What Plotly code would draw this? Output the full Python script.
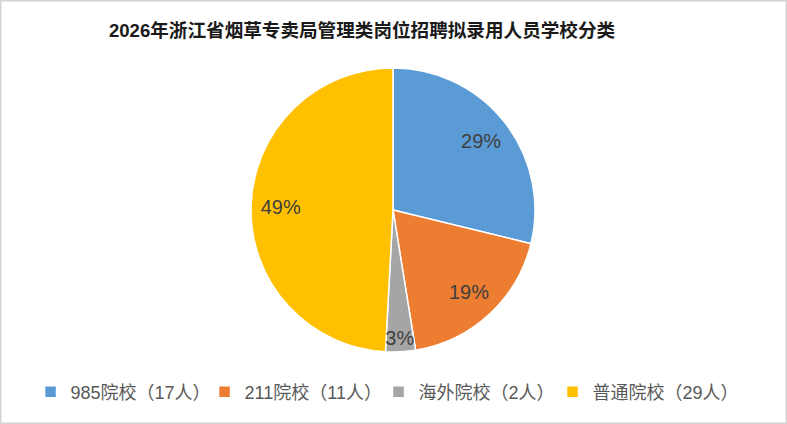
import plotly.graph_objects as go

categories = ["985院校（17人）", "211院校（11人）", "海外院校（2人）", "普通院校（29人）"]
counts = [17, 11, 2, 29]
colors = ["#5B9BD5", "#ED7D31", "#A5A5A5", "#FFC000"]
title = "2026年浙江省烟草专卖局管理类岗位招聘拟录用人员学校分类"

W, H = 787, 424
cx, cy, r = 393, 210, 142
dom = dict(x=[(cx - r) / W, (cx + r) / W], y=[1 - (cy + r) / H, 1 - (cy - r) / H])

fig = go.Figure()
# filled pie (slices)
fig.add_trace(go.Pie(
    labels=categories, values=counts, sort=False, direction="clockwise", rotation=0,
    marker=dict(colors=colors, line=dict(color="white", width=1.5)),
    textinfo="none", hoverinfo="label+percent", domain=dom,
))
# transparent ring carrying the percentage labels at ~0.8R
fig.add_trace(go.Pie(
    labels=categories, values=counts, sort=False, direction="clockwise", rotation=0,
    hole=0.58, showlegend=False,
    marker=dict(colors=["rgba(0,0,0,0)"] * len(counts), line=dict(width=0)),
    texttemplate="%{percent:.0%}", textposition="inside", insidetextorientation="horizontal",
    textfont=dict(family="Liberation Sans, Arial", size=20, color="#404040"),
    hoverinfo="skip", domain=dom,
))

fig.update_layout(
    width=W, height=H,
    margin=dict(l=0, r=0, t=0, b=0),
    paper_bgcolor="white",
    showlegend=True,
    uniformtext=dict(minsize=20, mode="show"),
    legend=dict(orientation="h", x=0.481, xanchor="center", y=1 - 392 / H, yanchor="middle",
                font=dict(family="Liberation Sans, Noto Sans CJK SC", size=18, color="#595959"),
                itemwidth=30, entrywidth=129, entrywidthmode="pixels", traceorder="normal"),
    title=dict(text="<b>" + title + "</b>", x=362 / W, xanchor="center", y=1 - 30 / H, yanchor="middle",
               font=dict(family="Liberation Sans, Noto Sans CJK SC", size=18.6, color="#1a1a1a")),
    shapes=[dict(type="rect", xref="paper", yref="paper", x0=0, y0=0, x1=1, y1=1,
                 line=dict(color="#d4d4d4", width=3), layer="above")],
)

fig.write_html("out.html", config={"displayModeBar": False},
               post_script="document.body.style.margin='0';")
